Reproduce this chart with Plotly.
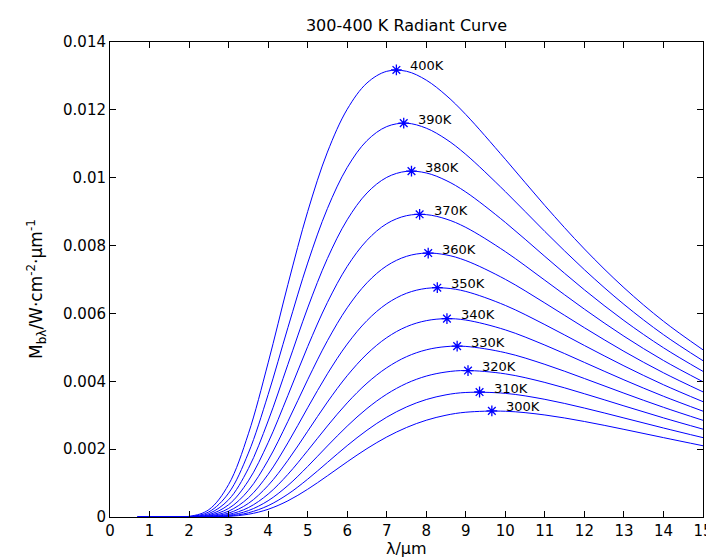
import plotly.graph_objects as go

# wavelength samples (µm)
wavelengths = [0.7, 2, 2.5, 3, 3.5, 4, 4.5, 5, 5.5, 6, 6.5, 7, 7.5, 8, 8.5, 9, 10, 11, 12, 13, 14, 15]

# radiant exitance (W·cm^-2·µm^-1)
m300 = [0, 0.0000001, 0.000002, 0.000018, 0.000080, 0.000227, 0.000477, 0.000818, 0.001214, 0.001626, 0.002016, 0.002358, 0.002638, 0.002852, 0.003000, 0.003088, 0.003117, 0.003007, 0.002815, 0.002583, 0.002339, 0.002100]
m310 = [0, 0.0000001, 0.000003, 0.000029, 0.000124, 0.000334, 0.000673, 0.001114, 0.001609, 0.002104, 0.002557, 0.002942, 0.003244, 0.003462, 0.003601, 0.003670, 0.003644, 0.003468, 0.003211, 0.002919, 0.002623, 0.002339]
m320 = [0, 0.0000002, 0.000006, 0.000048, 0.000188, 0.000480, 0.000928, 0.001489, 0.002094, 0.002679, 0.003197, 0.003620, 0.003938, 0.004153, 0.004274, 0.004317, 0.004219, 0.003966, 0.003633, 0.003275, 0.002921, 0.002589]
m330 = [0, 0.0000004, 0.000010, 0.000075, 0.000277, 0.000675, 0.001257, 0.001956, 0.002683, 0.003363, 0.003944, 0.004399, 0.004725, 0.004927, 0.005022, 0.005028, 0.004843, 0.004499, 0.004082, 0.003650, 0.003233, 0.002849]
m340 = [0, 0.0000008, 0.000017, 0.000115, 0.000400, 0.000929, 0.001671, 0.002527, 0.003388, 0.004165, 0.004805, 0.005286, 0.005609, 0.005787, 0.005845, 0.005805, 0.005515, 0.005067, 0.004556, 0.004043, 0.003559, 0.003119]
m350 = [0, 0.0000014, 0.000028, 0.000172, 0.000565, 0.001258, 0.002186, 0.003219, 0.004221, 0.005096, 0.005789, 0.006286, 0.006594, 0.006738, 0.006746, 0.006648, 0.006236, 0.005670, 0.005055, 0.004455, 0.003898, 0.003399]
m360 = [0, 0.0000025, 0.000044, 0.000252, 0.000783, 0.001673, 0.002818, 0.004045, 0.005196, 0.006166, 0.006903, 0.007403, 0.007683, 0.007779, 0.007726, 0.007558, 0.007005, 0.006307, 0.005579, 0.004883, 0.004250, 0.003688]
m370 = [0, 0.0000042, 0.000067, 0.000362, 0.001066, 0.002192, 0.003583, 0.005021, 0.006325, 0.007385, 0.008155, 0.008645, 0.008881, 0.008912, 0.008783, 0.008536, 0.007821, 0.006978, 0.006126, 0.005329, 0.004613, 0.003986]
m380 = [0, 0.0000070, 0.000101, 0.000508, 0.001427, 0.002830, 0.004497, 0.006162, 0.007620, 0.008760, 0.009550, 0.010010, 0.010188, 0.010140, 0.009920, 0.009579, 0.008683, 0.007680, 0.006695, 0.005791, 0.004988, 0.004292]
m390 = [0, 0.0000114, 0.000150, 0.000703, 0.001883, 0.003609, 0.005582, 0.007484, 0.009093, 0.010302, 0.011094, 0.011507, 0.011607, 0.011460, 0.011137, 0.010688, 0.009591, 0.008415, 0.007288, 0.006268, 0.005374, 0.004606]
m400 = [0, 0.0000181, 0.000216, 0.000956, 0.002452, 0.004544, 0.006851, 0.009000, 0.010755, 0.012017, 0.012792, 0.013136, 0.013137, 0.012876, 0.012430, 0.011863, 0.010544, 0.009179, 0.007900, 0.006759, 0.005770, 0.004927]

curves = [m300, m310, m320, m330, m340, m350, m360, m370, m380, m390, m400]

# peak points (marked with *)
peak_lambda = [9.659, 9.348, 9.056, 8.781, 8.523, 8.279, 8.049, 7.832, 7.626, 7.430, 7.244]
peak_value = [0.003127, 0.003684, 0.004317, 0.005036, 0.005846, 0.006758, 0.007780, 0.008922, 0.010195, 0.011609, 0.013176]
peak_labels = ["300K", "310K", "320K", "330K", "340K", "350K", "360K", "370K", "380K", "390K", "400K"]

x_ticks = list(range(0, 16))
y_tickvals = [0, 0.002, 0.004, 0.006, 0.008, 0.01, 0.012, 0.014]
y_ticktext = ["0", "0.002", "0.004", "0.006", "0.008", "0.01", "0.012", "0.014"]

BLUE = "#0000ff"
FONT = "DejaVu Sans"
TXT = "#000000"

fig = go.Figure()
for ys in curves:
    fig.add_trace(go.Scatter(
        x=wavelengths, y=ys, mode="lines",
        line=dict(color=BLUE, width=1, shape="spline", smoothing=1.0),
        showlegend=False, hoverinfo="skip"))

fig.add_trace(go.Scatter(
    x=peak_lambda, y=peak_value, mode="markers",
    marker=dict(symbol="asterisk-open", size=9, color=BLUE,
                line=dict(color=BLUE, width=1.3)),
    showlegend=False, hoverinfo="skip"))

for lx, ly, lab in zip(peak_lambda, peak_value, peak_labels):
    fig.add_annotation(x=lx, y=ly, text=lab, showarrow=False,
                       xanchor="left", yanchor="middle", xshift=12, yshift=4,
                       font=dict(family=FONT, size=13, color=TXT))

# y-axis title as annotation (rotated)
fig.add_annotation(xref="paper", yref="paper", x=-0.125, y=0.48,
                   text="M<sub>bλ</sub>/W·cm<sup>-2</sup>·μm<sup>-1</sup>",
                   textangle=-90, showarrow=False, xanchor="center", yanchor="middle",
                   font=dict(family=FONT, size=17, color=TXT))

# x-axis title as annotation
fig.add_annotation(xref="paper", yref="paper", x=0.5, y=-0.066,
                   text="λ/μm", showarrow=False, xanchor="center", yanchor="middle",
                   borderpad=0,
                   font=dict(family=FONT, size=16, color=TXT))

axis_common = dict(showline=True, linecolor="#000000", linewidth=1, mirror="ticks",
                   ticks="inside", ticklen=6, tickcolor="#000000", tickwidth=1,
                   showgrid=False, zeroline=False, ticklabeloverflow="allow",
                   tickfont=dict(family=FONT, size=15, color=TXT))

fig.update_layout(
    width=714, height=560,
    margin=dict(l=102, r=9, t=34, b=51),
    plot_bgcolor="#ffffff", paper_bgcolor="#ffffff",
    title=dict(text="300-400 K Radiant Curve", x=0.5, xref="paper", xanchor="center",
               y=1 - 17 / 560, yanchor="middle",
               font=dict(family=FONT, size=16, color=TXT)),
    xaxis=dict(range=[0, 15], tickvals=x_ticks, **axis_common),
    yaxis=dict(range=[0, 0.014], tickvals=y_tickvals, ticktext=y_ticktext,
               **axis_common),
)

fig.write_html("out.html")
